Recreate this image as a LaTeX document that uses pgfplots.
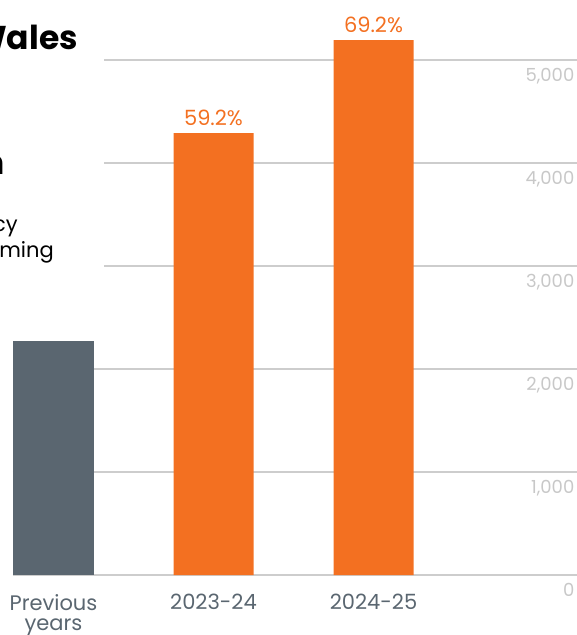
\documentclass[border=0pt]{standalone}
\usepackage{pgfplots}
\pgfplotsset{compat=1.18}
\usepackage{fontspec}
\setmainfont{Poppins}
\definecolor{barorange}{HTML}{F37021}
\definecolor{bargray}{HTML}{5A6670}
\definecolor{gridgray}{HTML}{CDCDCD}
\definecolor{ticklab}{HTML}{C8C8C8}
\definecolor{xlab}{HTML}{5A6670}
\begin{document}
\begin{tikzpicture}[x=1pt,y=1pt]
\useasboundingbox (0,0) rectangle (577,635);
\clip (0,0) rectangle (577,635);
\begin{axis}[
  at={(12.5pt,60pt)}, anchor=south west,
  x=160pt, y=0.103pt,
  xmin=-0.25625, xmax=3.26875, ymin=0, ymax=5582.5,
  axis line style={draw=none},
  major tick length=0pt,
  ymajorgrids, grid style={gridgray, line width=1.2pt},
  ytick={0,1000,2000,3000,4000,5000},
  scaled y ticks=false,
  yticklabel pos=right,
  /pgf/number format/assume math mode=true,
  /pgf/number format/1000 sep={,},
  yticklabel style={anchor=north east, inner sep=0pt, xshift=-2pt, yshift=-8pt, text=ticklab, font=\fontsize{18}{18}\selectfont},
  xtick={0,1,2},
  xticklabels={Previous\\years, 2023-24, 2024-25},
  xticklabel style={align=center, text=xlab, font=\fontsize{21}{20}\selectfont, inner sep=0pt, yshift=-19pt},
  clip=false,
]
\addplot[ybar, bar width=81pt, bar shift=0pt, fill=bargray, draw=none] coordinates {(0,2272)};
\addplot[ybar, bar width=80pt, bar shift=0pt, fill=barorange, draw=none,
  point meta=explicit symbolic,
  nodes near coords,
  every node near coord/.style={anchor=base, inner sep=0pt, yshift=8pt, text=barorange, font=\fontsize{21}{21}\selectfont}]
  coordinates {(1,4291)[59.2\%] (2,5194)[69.2\%]};
\end{axis}
\fill[white] (0,335) rectangle (104,635);
\node[anchor=base east, inner sep=0pt, font=\fontsize{33}{33}\selectfont\bfseries] at (78,585) {Wales};
\node[anchor=base east, inner sep=0pt, font=\fontsize{33}{33}\selectfont\bfseries] at (5,460) {n};
\node[anchor=base east, inner sep=0pt, font=\fontsize{21}{21}\selectfont] at (18,403) {cy};
\node[anchor=base east, inner sep=0pt, font=\fontsize{21}{21}\selectfont] at (54,377) {ming};
\end{tikzpicture}
\end{document}
